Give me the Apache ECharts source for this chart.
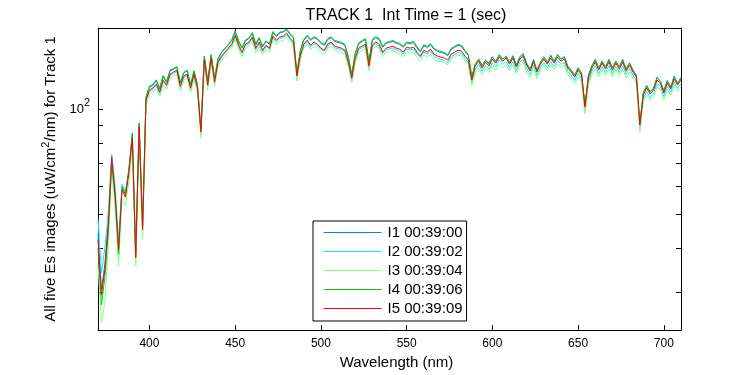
<!DOCTYPE html>
<html>
<head>
<meta charset="utf-8">
<script src="https://cdn.jsdelivr.net/npm/echarts@6/dist/echarts.min.js"></script>
<style>
html,body{margin:0;padding:0;background:#fff;}
#chart{width:750px;height:375px;}
</style>
</head>
<body>
<div id="chart"></div>
<script>
const wavelengths = [370,372,374,376,378,380,382,384,386,388,390,392,394,396,398,400,402,404,406,408,410,412,414,416,418,420,422,424,426,428,430,432,434,436,438,440,442,444,446,448,450,452,454,456,458,460,462,464,466,468,470,472,474,476,478,480,482,484,486,488,490,492,494,496,498,500,502,504,506,508,510,512,514,516,518,520,522,524,526,528,530,532,534,536,538,540,542,544,546,548,550,552,554,556,558,560,562,564,566,568,570,572,574,576,578,580,582,584,586,588,590,592,594,596,598,600,602,604,606,608,610,612,614,616,618,620,622,624,626,628,630,632,634,636,638,640,642,644,646,648,650,652,654,656,658,660,662,664,666,668,670,672,674,676,678,680,682,684,686,688,690,692,694,696,698,700,702,704,706,708,710];

const I1 = [44.0,30.5,36.0,47.5,72.0,57.0,40.5,59.5,57.0,66.5,
84.5,38.0,90.5,46.0,108.0,116.0,117.0,121.0,114.0,124.0,
119.5,129.0,130.0,132.0,119.0,127.0,129.0,117.5,128.5,117.5,
87.5,141.5,120.0,143.0,122.0,139.5,145.0,149.0,153.0,157.5,
167.0,156.0,149.5,157.0,159.5,165.0,153.0,160.0,151.0,156.5,
153.5,166.0,161.5,165.5,166.5,169.0,164.0,160.0,126.5,147.0,
157.5,162.0,157.5,160.5,158.5,154.5,152.5,158.5,160.5,156.5,
155.5,154.5,152.5,140.5,125.5,144.0,154.0,156.5,158.5,136.5,
157.5,160.5,158.5,150.5,154.5,155.5,156.5,154.5,153.5,150.5,
155.0,154.0,155.5,150.0,146.0,152.0,150.5,153.0,148.5,146.5,
145.5,144.5,142.5,148.5,150.5,152.5,151.5,146.5,142.5,123.0,
134.5,139.5,133.5,138.0,135.5,141.5,137.0,143.5,139.5,141.5,
136.0,142.5,133.5,141.5,144.5,135.0,130.0,139.0,129.0,136.0,
141.5,136.0,143.0,137.5,143.5,139.5,141.5,132.5,129.0,125.5,
131.5,126.5,102.0,125.0,133.5,139.0,131.5,137.0,132.5,139.0,
131.5,137.0,132.5,139.0,130.0,136.0,129.0,125.5,90.5,111.5,
117.0,112.5,114.5,123.5,120.0,113.0,121.0,115.5,124.5,118.5,
123.5];

const I2 = [48.5,34.0,40.0,50.5,74.5,60.5,42.0,61.0,58.0,66.0,
82.0,37.5,88.5,45.0,105.5,112.5,114.0,117.0,111.0,120.0,
116.5,125.0,126.5,128.5,115.5,123.5,125.0,114.0,125.0,114.0,
85.5,137.0,116.5,139.0,118.5,135.5,140.5,144.5,148.5,152.0,
161.5,151.0,144.5,152.0,154.5,159.5,148.5,154.5,146.0,151.5,
148.5,160.5,156.0,159.5,160.5,163.5,158.5,154.0,123.5,141.5,
152.0,156.5,151.0,154.0,152.0,148.5,146.5,152.0,154.5,150.0,
149.0,148.5,146.5,135.0,121.5,139.0,148.0,150.0,152.0,131.5,
151.5,154.0,152.0,144.5,148.0,149.0,150.0,148.0,147.0,144.0,
149.0,148.0,149.0,144.0,140.5,146.0,144.0,147.0,142.0,140.0,
139.0,138.0,136.0,141.5,143.5,145.5,144.5,140.0,136.0,119.5,
130.0,134.5,128.5,133.5,130.0,136.0,132.5,138.0,134.5,137.0,
131.5,137.0,129.0,136.5,139.0,131.0,126.0,133.5,125.0,131.5,
136.0,131.5,137.0,132.5,138.0,134.5,136.0,128.5,125.0,121.0,
126.5,122.5,99.5,120.0,128.5,133.5,126.5,132.5,127.5,133.5,
126.5,132.5,127.5,133.5,126.0,131.0,125.0,121.0,88.5,107.5,
112.5,108.0,111.0,118.5,116.5,109.0,116.5,112.0,119.5,115.0,
118.5];

const I3 = [36.0,24.5,28.0,41.0,68.0,52.0,35.5,55.0,53.0,62.0,
79.0,35.5,85.5,42.5,103.0,110.5,112.0,114.5,109.0,117.5,
114.0,122.5,124.5,126.0,113.0,121.0,122.5,112.0,122.5,112.0,
83.0,134.5,114.0,136.5,116.5,133.0,138.0,142.0,145.5,149.5,
158.5,148.5,141.5,149.5,151.5,156.5,145.5,151.5,143.5,148.5,
145.5,157.5,153.5,156.5,157.5,160.5,155.5,151.5,120.5,139.0,
149.5,153.5,148.5,151.5,149.5,145.5,143.5,149.5,151.5,147.5,
146.5,145.5,143.5,132.5,119.0,136.0,145.5,147.5,149.5,129.0,
148.5,151.5,149.5,141.5,145.5,146.5,147.5,145.5,144.5,141.5,
146.0,145.0,146.0,141.0,137.5,143.0,141.0,143.5,139.0,137.0,
137.0,136.0,134.0,139.5,141.5,143.0,142.0,137.5,134.0,117.0,
127.5,131.5,125.5,130.5,127.5,133.5,129.5,135.0,131.5,134.0,
129.0,134.0,126.5,133.5,136.0,128.0,123.0,130.5,122.5,129.0,
133.5,129.0,134.0,130.0,135.0,131.5,133.5,125.5,122.5,118.5,
124.0,120.0,97.0,117.5,125.5,130.5,124.0,130.0,125.0,130.5,
124.0,130.0,125.0,130.5,123.0,128.0,122.5,118.5,86.0,105.0,
110.0,106.0,108.5,116.0,114.0,106.5,114.0,109.5,117.0,112.5,
116.0];

const I4 = [40.0,27.5,33.0,44.5,70.0,55.5,38.5,60.0,57.5,67.5,
85.5,38.5,91.5,46.5,108.5,116.5,118.0,121.5,115.0,125.0,
120.0,129.5,131.0,132.5,119.5,127.5,129.5,118.0,129.0,118.0,
88.0,142.0,120.5,143.5,122.5,140.0,145.5,149.5,153.5,158.0,
168.0,157.0,150.0,158.0,160.0,166.0,154.0,160.5,152.0,157.0,
154.5,167.0,162.5,166.5,167.0,170.0,165.0,161.0,127.0,147.5,
158.5,163.0,158.5,161.5,159.5,155.5,153.5,159.5,161.5,157.5,
156.5,155.5,153.5,141.5,126.0,145.0,155.0,157.5,159.5,137.5,
158.5,161.5,159.5,151.5,155.5,156.5,157.5,155.5,154.5,151.5,
156.0,155.0,156.5,151.0,147.0,153.0,151.5,154.0,149.5,147.5,
146.5,145.5,143.5,149.5,151.5,153.5,152.5,147.5,143.5,124.0,
135.0,139.0,133.0,138.5,134.5,141.0,137.5,142.5,139.0,142.0,
136.5,141.5,134.0,141.0,143.5,135.5,130.5,138.0,129.5,136.5,
141.0,136.5,142.0,137.0,143.0,139.0,141.0,133.0,129.5,125.0,
131.0,127.0,102.5,124.5,133.0,138.0,131.0,137.5,132.0,138.5,
131.0,137.5,132.0,138.0,130.5,135.5,129.5,125.0,91.0,111.0,
116.5,112.0,115.0,123.0,120.5,112.5,120.5,116.0,123.5,119.0,
122.5];

const I5 = [42.3,29.4,34.7,46.7,73.1,56.9,39.6,58.8,56.0,65.7,
82.8,37.6,89.0,45.2,106.3,113.6,115.1,118.1,112.1,121.3,
117.4,126.1,127.8,129.5,116.6,124.5,126.1,115.1,126.1,115.1,
86.1,138.4,117.4,140.2,119.7,136.6,142.0,145.8,149.7,153.7,
163.1,152.7,145.8,153.7,155.8,161.0,149.7,155.8,147.7,152.7,
149.7,162.1,157.8,161.0,162.1,165.3,159.9,155.8,124.5,143.0,
153.7,157.8,152.7,155.8,153.7,149.7,147.7,153.7,155.8,151.7,
150.7,149.7,147.7,136.6,122.9,140.2,149.7,151.7,153.7,133.0,
152.7,155.8,153.7,145.8,149.7,150.7,151.7,149.7,148.7,145.8,
150.7,149.7,150.7,145.8,142.0,147.7,145.8,148.7,143.9,142.0,
141.1,140.2,138.4,143.9,145.8,147.7,146.8,142.0,138.4,121.3,
133.0,137.4,131.2,136.6,133.0,139.3,135.6,141.1,137.4,140.2,
134.7,140.2,132.1,139.3,142.0,133.9,128.7,136.6,127.8,134.7,
139.3,134.7,140.2,135.6,141.1,137.4,139.3,131.2,127.8,123.7,
129.5,125.3,101.5,122.9,131.2,136.6,129.5,135.6,130.4,136.6,
129.5,135.6,130.4,136.6,128.7,133.9,127.8,123.7,90.2,109.9,
115.1,110.6,113.6,121.3,118.9,111.4,118.9,114.4,122.1,117.4,
121.3];

const seriesNames = ['I1 00:39:00','I2 00:39:02','I3 00:39:04','I4 00:39:06','I5 00:39:09'];
const seriesColors = ['#0080ff','#00f0ff','#80ff80','#00cc00','#ff0000'];
const xTicks = [400,450,500,550,600,650,700];
const yTicks = [30,40,50,60,70,80,90,100];
const yLabelTicks = [100];

const allSeries = [I1,I2,I3,I4,I5];
const FONT = "'Liberation Sans', Arial, sans-serif";

const chart = echarts.init(document.getElementById('chart'), null, {renderer:'canvas'});

const axisCommon = {
  axisLine:{show:true, lineStyle:{color:'#000', width:1}},
  splitLine:{show:false},
};

const option = {
  animation:false,
  backgroundColor:'#fff',
  textStyle:{fontFamily:FONT},
  title:{
    text:'TRACK 1  Int Time = 1 (sec)',
    left:401, top:3, textAlign:'center',
    textStyle:{fontFamily:FONT, fontSize:16, fontWeight:'normal', color:'#000'}
  },
  grid:{left:98, right:69, top:28, bottom:44, containLabel:false},
  legend:{
    orient:'vertical',
    left:313, top:221,
    padding:[4,4,5,10],
    itemWidth:58, itemHeight:15, itemGap:4,
    itemStyle:{opacity:0},
    backgroundColor:'#fff', borderColor:'#000', borderWidth:1,
    textStyle:{fontFamily:FONT, fontSize:15, lineHeight:15, color:'#000', padding:[0,0,0,1]},
    data:seriesNames.map(function(n, k){
      return {name:n, lineStyle:{color:seriesColors[k], width:1, opacity:1}, itemStyle:{opacity:0}};
    })
  },
  xAxis:[
    Object.assign({}, axisCommon, {
      type:'value', min:370, max:710, position:'bottom',
      axisTick:{show:true, inside:true, length:5, customValues:xTicks, lineStyle:{color:'#000'}},
      axisLabel:{customValues:xTicks, color:'#000', fontSize:12, margin:8, fontFamily:FONT},
      name:'Wavelength (nm)', nameLocation:'middle', nameGap:24,
      nameTextStyle:{fontFamily:FONT, fontSize:15, color:'#000', padding:[0,0,0,14]}
    }),
    Object.assign({}, axisCommon, {
      type:'value', min:370, max:710, position:'top',
      axisTick:{show:true, inside:true, length:5, customValues:xTicks, lineStyle:{color:'#000'}},
      axisLabel:{show:false}
    })
  ],
  yAxis:[
    Object.assign({}, axisCommon, {
      type:'log', logBase:10, min:23.3, max:171, position:'left',
      axisTick:{show:true, inside:true, length:5, customValues:yTicks, lineStyle:{color:'#000'}},
      axisLabel:{customValues:yLabelTicks, color:'#000', margin:8, fontFamily:FONT,
        formatter:function(){ return '{b|10}{s|2}'; },
        rich:{b:{fontSize:13, fontFamily:FONT, color:'#000'}, s:{fontSize:11, fontFamily:FONT, color:'#000', padding:[0,0,12,0]}}
      },
      name:'All five Es images (uW/cm{s|2}/nm) for Track 1', nameLocation:'middle', nameGap:33, nameRotate:90,
      nameTextStyle:{fontFamily:FONT, fontSize:15, color:'#000',
        rich:{s:{fontSize:11, fontFamily:FONT, color:'#000', padding:[0,0,10,0]}}}
    }),
    Object.assign({}, axisCommon, {
      type:'log', logBase:10, min:23.3, max:171, position:'right',
      axisTick:{show:true, inside:true, length:5, customValues:yTicks, lineStyle:{color:'#000'}},
      axisLabel:{show:false}
    })
  ],
  series: allSeries.map(function(arr, k){
    return {
      name:seriesNames[k], type:'line', xAxisIndex:0, yAxisIndex:0,
      symbol:'none', showSymbol:false,
      lineStyle:{color:seriesColors[k], width:1},
      itemStyle:{color:seriesColors[k]},
      emphasis:{disabled:true},
      data: wavelengths.map(function(w, i){ return [w, arr[i]]; })
    };
  })
};
chart.setOption(option);
</script>
</body>
</html>
